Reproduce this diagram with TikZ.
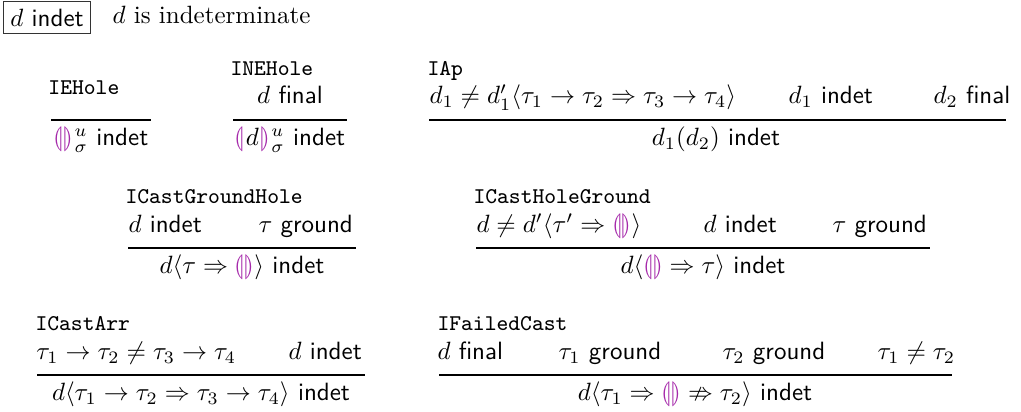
\documentclass[tikz,border=0pt]{standalone}
\usepackage{xcolor}
\usepackage{tikz}
\usepackage{amsmath}
\usepackage{amssymb}
\usepackage{stmaryrd}
\definecolor{holepurple}{RGB}{165, 40, 170}
\newcommand{\ehole}{\textcolor{holepurple}{\llparenthesis\rrparenthesis}}
\newcommand{\nehole}[1]{\textcolor{holepurple}{\llparenthesis}\mkern1mu#1\mkern1mu\textcolor{holepurple}{\rrparenthesis}}
\tikzset{
  rulename/.style={font=\small\ttfamily, anchor=base west, inner sep=0pt},
  premise/.style={anchor=base west, inner sep=0pt},
  concl/.style={anchor=base, inner sep=0pt},
  ruleline/.style={line width=0.6pt}
}

\begin{document}
\begin{tikzpicture}[x=0.4pt, y=-0.4pt]
\useasboundingbox (0,0) rectangle (1021,412);

% judgement form
\node[draw=black!80, minimum width=34.8pt, minimum height=12.8pt, inner sep=0pt, anchor=north west] (hdrbox) at (3,1) {$d$ \textsf{indet}};
\node[premise] (hdrtext) at (112,24) {$d$ is indeterminate};

% IEHole
\node[rulename] (iehole) at (48,95) {IEHole};
\coordinate (iehole-l) at (51,120);
\coordinate (iehole-r) at (151,120);
\draw[ruleline] (iehole-l) -- (iehole-r);
\node[concl] (iehole-c) at (101,146) {$\ehole\mkern1mu^u_\sigma$ \textsf{indet}};

% INEHole
\node[rulename] (inehole) at (230,76) {INEHole};
\node[concl] (inehole-p1) at (290,104) {$d$ \textsf{final}};
\coordinate (inehole-l) at (233,120);
\coordinate (inehole-r) at (347,120);
\draw[ruleline] (inehole-l) -- (inehole-r);
\node[concl] (inehole-c) at (290,146) {$\nehole{d}\mkern1mu^u_\sigma$ \textsf{indet}};

% IAp
\node[rulename] (iap) at (427,76) {IAp};
\node[premise] (iap-p1) at (429,104) {$d_1 \neq d_1'\langle \tau_1 \to \tau_2 \Rightarrow \tau_3 \to \tau_4\rangle$};
\node[premise] (iap-p2) at (788,104) {$d_1$ \textsf{indet}};
\node[premise] (iap-p3) at (933,104) {$d_2$ \textsf{final}};
\coordinate (iap-l) at (429,120);
\coordinate (iap-r) at (1006,120);
\draw[ruleline] (iap-l) -- (iap-r);
\node[concl] (iap-c) at (716,146) {$d_1(d_2)$ \textsf{indet}};

% ICastGroundHole
\node[rulename] (icgh) at (125,204) {ICastGroundHole};
\node[premise] (icgh-p1) at (128,233) {$d$ \textsf{indet}};
\node[premise] (icgh-p2) at (258,233) {$\tau$ \textsf{ground}};
\coordinate (icgh-l) at (128,248);
\coordinate (icgh-r) at (356,248);
\draw[ruleline] (icgh-l) -- (icgh-r);
\node[concl] (icgh-c) at (242,274) {$d\langle \tau \Rightarrow \ehole\rangle$ \textsf{indet}};

% ICastHoleGround
\node[rulename] (ichg) at (473,204) {ICastHoleGround};
\node[premise] (ichg-p1) at (476,233) {$d \neq d'\langle \tau' \Rightarrow \ehole\rangle$};
\node[premise] (ichg-p2) at (703,233) {$d$ \textsf{indet}};
\node[premise] (ichg-p3) at (832,233) {$\tau$ \textsf{ground}};
\coordinate (ichg-l) at (476,248);
\coordinate (ichg-r) at (930,248);
\draw[ruleline] (ichg-l) -- (ichg-r);
\node[concl] (ichg-c) at (703,274) {$d\langle \ehole \Rightarrow \tau\rangle$ \textsf{indet}};

% ICastArr
\node[rulename] (icarr) at (35,331) {ICastArr};
\node[premise] (icarr-p1) at (36,360) {$\tau_1 \to \tau_2 \neq \tau_3 \to \tau_4$};
\node[premise] (icarr-p2) at (288,360) {$d$ \textsf{indet}};
\coordinate (icarr-l) at (37,375);
\coordinate (icarr-r) at (365,375);
\draw[ruleline] (icarr-l) -- (icarr-r);
\node[concl] (icarr-c) at (201,401) {$d\langle \tau_1 \to \tau_2 \Rightarrow \tau_3 \to \tau_4\rangle$ \textsf{indet}};

% IFailedCast
\node[rulename] (ifc) at (437,331) {IFailedCast};
\node[premise] (ifc-p1) at (437,360) {$d$ \textsf{final}};
\node[premise] (ifc-p2) at (558,360) {$\tau_1$ \textsf{ground}};
\node[premise] (ifc-p3) at (722,360) {$\tau_2$ \textsf{ground}};
\node[premise] (ifc-p4) at (877,360) {$\tau_1 \neq \tau_2$};
\coordinate (ifc-l) at (439,375);
\coordinate (ifc-r) at (952,375);
\draw[ruleline] (ifc-l) -- (ifc-r);
\node[concl] (ifc-c) at (695,401) {$d\langle \tau_1 \Rightarrow \ehole \nRightarrow \tau_2\rangle$ \textsf{indet}};
\end{tikzpicture}
\end{document}
